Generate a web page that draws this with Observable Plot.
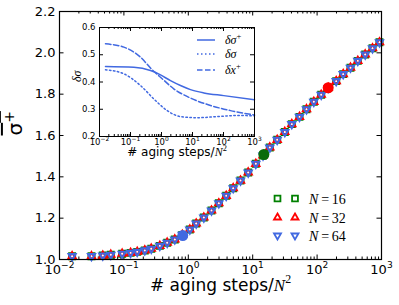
<!DOCTYPE html>
<html><head><meta charset="utf-8">
<script src="https://cdn.jsdelivr.net/npm/d3@7"></script>
<script src="https://cdn.jsdelivr.net/npm/@observablehq/plot@0.6"></script>
<style>
body{margin:0;background:#fff;}
#wrap{position:relative;width:399px;height:305px;overflow:hidden;background:#fff;}
#wrap svg{position:absolute;left:0;top:0;}
</style></head><body><div id="wrap"></div>
<script>
// ---------- data ----------
const agingSteps = [0.0157,0.0314,0.047,0.0626,0.094,0.127,0.161,0.211,0.266,0.361,0.47,0.617,
  0.807,1.055,1.326,1.741,2.292,2.976,3.877,4.981,6.465,8.514,
  11.17,14.45,18.43,24.01,31.51,40.46,53.3,68.45,88.88,115.8,
  148.7,198.0,254.3,330.1,428.5,558.4,724.8,930.9];
const sigmaN16 = [1.016,1.016,1.019,1.023,1.028,1.032,1.037,1.044,1.052,1.066,1.081,1.097,
  1.119,1.145,1.174,1.203,1.237,1.272,1.308,1.345,1.382,1.421,
  1.463,1.503,1.542,1.579,1.617,1.655,1.690,1.727,1.763,1.797,
  1.830,1.863,1.897,1.928,1.961,1.992,2.022,2.051];
const sigmaN32 = sigmaN16.slice();
const sigmaN64 = sigmaN16.slice();
const highlightSteps = [0.82, 14.9, 148.7];
const highlightSigma = [1.116, 1.508, 1.831];
const highlightColors = ["#4169e1", "#0a6b0a", "#ff0000"];
const seriesLabels = ["16", "32", "64"];

const xTickValues = [0.01, 0.1, 1, 10, 100, 1000];
const yTickValues = [1.0, 1.2, 1.4, 1.6, 1.8, 2.0, 2.2];
const insetYTickValues = [0.2, 0.3, 0.4, 0.5, 0.6];

// inset curves
const dSigmaPlusX = [0.0156, 0.128, 0.442, 0.929, 1.95, 4.10, 8.61, 23.2, 102, 1000];
const dSigmaPlusY = [0.457, 0.454, 0.442, 0.426, 0.405, 0.387, 0.372, 0.360, 0.350, 0.335];
const dSigmaX = [0.0156, 0.061, 0.21, 0.565, 1.53, 4.10, 14.1, 62.7, 275, 1000];
const dSigmaY = [0.445, 0.430, 0.387, 0.338, 0.295, 0.273, 0.269, 0.273, 0.277, 0.276];
const dXPlusX = [0.0156, 0.061, 0.21, 0.50, 1.05, 2.49, 8.61, 38.0, 168, 1000];
const dXPlusY = [0.540, 0.528, 0.491, 0.445, 0.412, 0.375, 0.341, 0.314, 0.295, 0.279];

// ---------- helpers ----------
const NS = "http://www.w3.org/2000/svg";
const minorTicks = d3.range(-2, 3).flatMap(e => d3.range(2, 10).map(m => m * Math.pow(10, e)));
function setRich(el, parts, base) {
  el.textContent = "";
  let up = 0;
  for (const p of parts) {
    const ts = document.createElementNS(NS, "tspan");
    ts.textContent = p.t;
    if (p.italic) ts.setAttribute("font-style", "italic");
    if (p.family) ts.setAttribute("font-family", p.family);
    const want = p.sup ? -0.42 * base : 0;
    if (want !== up) { ts.setAttribute("dy", (want - up).toFixed(2)); up = want; }
    if (p.sup) ts.setAttribute("font-size", (0.7 * base).toFixed(2) + "px");
    el.appendChild(ts);
  }
}
function fixPowers(svg, base) {
  for (const t of svg.querySelectorAll("text")) {
    const m = /^10\^(-?\d+)$/.exec(t.textContent);
    if (m) setRich(t, [{t: "10"}, {t: m[1].replace("-", "\u2212"), sup: true}], base);
  }
}
function findText(svg, s) { return [...svg.querySelectorAll("text")].find(t => t.textContent === s); }
const powFmt = d => "10^" + Math.round(Math.log10(d));

// ---------- main chart ----------
const W = 399, H = 305, mL = 59, mR = 18, mT = 11, mB = 46;
const fw = W - mL - mR, fh = H - mT - mB;
const mSW = 2.1;
const main = Plot.plot({
  width: W, height: H, marginLeft: mL, marginRight: mR, marginTop: mT, marginBottom: mB,
  x: {type: "log", domain: [0.01, 1000]},
  y: {domain: [1.0, 2.2]},
  color: {type: "identity"},
  style: {fontFamily: "DejaVu Sans", fontSize: "13px", background: "white", color: "black", overflow: "visible"},
  marks: [
    Plot.tickX(xTickValues, {x: d => d, insetTop: fh - 4.5, stroke: "black"}),
    Plot.tickX(xTickValues, {x: d => d, insetBottom: fh - 4.5, stroke: "black"}),
    Plot.tickX(minorTicks, {x: d => d, insetTop: fh - 2.5, stroke: "black"}),
    Plot.tickX(minorTicks, {x: d => d, insetBottom: fh - 2.5, stroke: "black"}),
    Plot.tickY(yTickValues, {y: d => d, insetRight: fw - 4.5, stroke: "black"}),
    Plot.tickY(yTickValues, {y: d => d, insetLeft: fw - 4.5, stroke: "black"}),
    Plot.axisX(xTickValues, {tickSize: 0, tickPadding: 5, tickFormat: powFmt, label: null, fontSize: 13}),
    Plot.axisY(yTickValues, {tickSize: 0, tickPadding: 4, tickFormat: d => d.toFixed(1), label: null, fontSize: 13}),
    Plot.dot(agingSteps, {x: d => d, y: (d, i) => sigmaN16[i], symbol: "square", r: 3.3, stroke: "green", fill: "none", strokeWidth: mSW}),
    Plot.dot(agingSteps, {x: d => d, y: (d, i) => sigmaN32[i], symbol: "triangle", r: 2.6, stroke: "red", fill: "none", strokeWidth: mSW}),
    Plot.dot(agingSteps, {x: d => d, y: (d, i) => sigmaN64[i], symbol: "triangle", rotate: 180, r: 2.6, stroke: "#4169e1", fill: "none", strokeWidth: mSW}),
    Plot.dot(highlightSteps, {x: d => d, y: (d, i) => highlightSigma[i], fill: (d, i) => highlightColors[i], r: 5.5}),
    Plot.frame({stroke: "black", strokeWidth: 1.2}),
    Plot.text(["# aging steps/N^2"], {text: d => d, frameAnchor: "bottom", dy: 31, fontSize: 17}),
    Plot.text(["sigmaplus"], {text: d => d, frameAnchor: "left", dx: -44, rotate: -90, fontSize: 20})
  ]
});
main.style.left = "0px"; main.style.top = "0px";
fixPowers(main, 13);
{
  const xl = findText(main, "# aging steps/N^2");
  if (xl) setRich(xl, [{t: "# aging steps/"}, {t: "N", italic: true, family: "Liberation Serif"}, {t: "2", sup: true, family: "Liberation Serif"}], 17);
  const yl = findText(main, "sigmaplus");
  if (yl) { setRich(yl, [{t: "\u03c3"}, {t: "+", sup: true}], 20); yl.setAttribute("text-decoration", "overline"); yl.style.textDecoration = "overline"; }
}
// main legend
{
  const g = d3.select(main).append("g").attr("aria-label", "legend").attr("text-anchor", "start");
  const shapes = [
    {type: d3.symbolSquare, r: 3.3, stroke: "green", rot: 0},
    {type: d3.symbolTriangle, r: 2.6, stroke: "red", rot: 0},
    {type: d3.symbolTriangle, r: 2.6, stroke: "#4169e1", rot: 180}
  ];
  const ys = [198.5, 217.5, 235.5];
  seriesLabels.forEach((lab, i) => {
    const s = shapes[i];
    for (const x of [277.5, 295]) {
      g.append("path").attr("d", d3.symbol(s.type, Math.PI * s.r * s.r)())
        .attr("transform", `translate(${x},${ys[i]}) rotate(${s.rot})`)
        .attr("fill", "none").attr("stroke", s.stroke).attr("stroke-width", 1.8);
    }
    const t = g.append("text").attr("x", 309).attr("y", ys[i] + 5).attr("text-anchor", "start")
      .attr("font-family", "Liberation Serif").attr("font-size", 14);
    t.append("tspan").attr("font-style", "italic").text("N");
    t.append("tspan").text("\u2009=\u2009" + lab);
  });
}
document.getElementById("wrap").appendChild(main);

// ---------- inset ----------
const iW = 200, iH = 145, imL = 39, imT = 7, imR = 6, imB = 29;
const ifw = iW - imL - imR, ifh = iH - imT - imB;
const lineBlue = "#4169e1";
const inset = Plot.plot({
  width: iW, height: iH, marginLeft: imL, marginRight: imR, marginTop: imT, marginBottom: imB,
  x: {type: "log", domain: [0.01, 1000]},
  y: {domain: [0.2, 0.6]},
  style: {fontFamily: "DejaVu Sans", fontSize: "8.5px", background: "transparent", color: "black", overflow: "visible"},
  marks: [
    Plot.frame({fill: "white"}),
    Plot.tickX(xTickValues, {x: d => d, insetTop: ifh - 4, stroke: "black"}),
    Plot.tickX(xTickValues, {x: d => d, insetBottom: ifh - 4, stroke: "black"}),
    Plot.tickX(minorTicks, {x: d => d, insetTop: ifh - 2, stroke: "black"}),
    Plot.tickX(minorTicks, {x: d => d, insetBottom: ifh - 2, stroke: "black"}),
    Plot.tickY(insetYTickValues, {y: d => d, insetRight: ifw - 4, stroke: "black"}),
    Plot.tickY(insetYTickValues, {y: d => d, insetLeft: ifw - 4, stroke: "black"}),
    Plot.axisX(xTickValues, {tickSize: 0, tickPadding: 2, tickFormat: powFmt, label: null, fontSize: 8.5}),
    Plot.axisY(insetYTickValues, {tickSize: 0, tickPadding: 4, tickFormat: d => d.toFixed(1), label: null, fontSize: 8.5}),
    Plot.line(dSigmaPlusX, {x: d => d, y: (d, i) => dSigmaPlusY[i], stroke: lineBlue, strokeWidth: 1.5, curve: "monotone-x"}),
    Plot.line(dSigmaX, {x: d => d, y: (d, i) => dSigmaY[i], stroke: lineBlue, strokeWidth: 1.5, strokeDasharray: "1.5,2.5", curve: "monotone-x"}),
    Plot.line(dXPlusX, {x: d => d, y: (d, i) => dXPlusY[i], stroke: lineBlue, strokeWidth: 1.5, strokeDasharray: "5.5,2.5", curve: "monotone-x"}),
    Plot.frame({stroke: "black", strokeWidth: 1}),
    Plot.text(["# aging steps/N^2"], {text: d => d, frameAnchor: "bottom", dy: 19.5, fontSize: 12}),
    Plot.text(["dsigma"], {text: d => d, frameAnchor: "left", dx: -22, rotate: -90, fontSize: 12, fontFamily: "Liberation Serif"})
  ]
});
inset.style.left = "60px"; inset.style.top = "20px";
fixPowers(inset, 8.5);
{
  const xl = findText(inset, "# aging steps/N^2");
  if (xl) setRich(xl, [{t: "# aging steps/"}, {t: "N", italic: true, family: "Liberation Serif"}, {t: "2", sup: true, family: "Liberation Serif"}], 12);
  const yl = findText(inset, "dsigma");
  if (yl) setRich(yl, [{t: "\u03b4\u03c3", italic: true}], 12);
  const g = d3.select(inset).append("g").attr("aria-label", "legend").attr("text-anchor", "start");
  const entries = [
    {dash: null, parts: ["\u03b4\u03c3", "+"]},
    {dash: "1.5,2.5", parts: ["\u03b4\u03c3", null]},
    {dash: "5.5,2.5", parts: ["\u03b4x", "+"]}
  ];
  const ys = [20, 34, 50];
  entries.forEach((e, i) => {
    g.append("line").attr("x1", 137).attr("x2", 155).attr("y1", ys[i]).attr("y2", ys[i])
      .attr("stroke", lineBlue).attr("stroke-width", 1.5).attr("stroke-dasharray", e.dash);
    const t = g.append("text").attr("x", 165).attr("y", ys[i] + 4).attr("text-anchor", "start")
      .attr("font-family", "Liberation Serif").attr("font-size", 12).attr("font-style", "italic");
    t.append("tspan").text(e.parts[0]);
    if (e.parts[1]) t.append("tspan").attr("dy", -5).attr("font-size", 8.5).attr("font-style", "normal").text(e.parts[1]);
  });
}
document.getElementById("wrap").appendChild(inset);
</script></body></html>
